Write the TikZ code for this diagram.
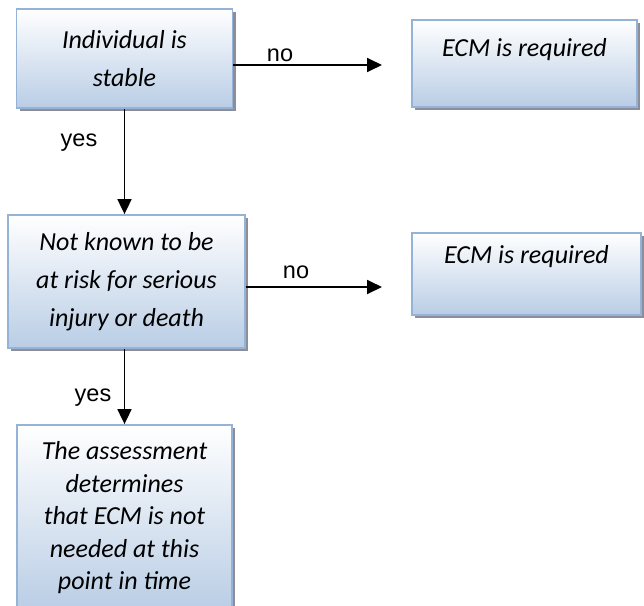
\documentclass[tikz,border=0pt]{standalone}
\usepackage{fontspec}
\setmainfont{Carlito}
\newfontfamily\arialfont{Liberation Sans}
\usetikzlibrary{arrows.meta}
\usetikzlibrary{shadows}

\definecolor{boxline}{HTML}{95B3D7}
\definecolor{boxfill}{HTML}{B9CDE5}
\definecolor{shadowgray}{HTML}{8E8E9A}

\tikzset{
    stepbox/.style={rectangle, draw=boxline, line width=1.8pt, top color=white, bottom color=boxfill,
        inner sep=0pt, align=center, font=\fontsize{26}{38}\selectfont\itshape,
        drop shadow={shadow xshift=3pt, shadow yshift=-3pt, fill=shadowgray, opacity=1}},
    flow/.style={line width=1.8pt, -{Triangle[length=15pt, width=14pt]}},
    answer/.style={font=\arialfont\fontsize{23.5}{28}\selectfont}
}

\begin{document}
\begin{tikzpicture}[x=1pt, y=-1pt]
    \clip (0,0) rectangle (644,605);
    \fill[white] (0,0) rectangle (644,605);
    \node[stepbox, minimum width=216pt, minimum height=99pt] (stable) at (124.5,58.5) {Individual is\\stable};
    \node[stepbox, minimum width=225pt, text height=36pt, text depth=51pt] (required1) at (524.5,63.5) {ECM is required};
    \node[stepbox, minimum width=237pt, minimum height=133pt] (risk) at (126.5,281.5) {Not known to be\\at risk for serious\\injury or death};
    \node[stepbox, minimum width=229pt, text height=30pt, text depth=52pt] (required2) at (526.5,274) {ECM is required};
    \node[stepbox, minimum width=215pt, minimum height=186pt, font=\fontsize{26}{32.5}\selectfont\itshape] (assessment) at (124.5,518)
        {The assessment\\determines\\that ECM is not\\needed at this\\point in time};
    \coordinate (no1) at (382,65);
    \coordinate (no2) at (382,287);
    \draw[flow] (stable.east |- no1) -- (no1);
    \draw[flow] (risk.east |- no2) -- (no2);
    \draw[flow] (stable.south) -- (stable.south |- risk.north);
    \draw[flow] (stable.south |- risk.south) -- (stable.south |- assessment.north);
    \node[answer] (no1label) at (280,55) {no};
    \node[answer] (no2label) at (296,272) {no};
    \node[answer] (yes1label) at (79,143) {yes};
    \node[answer] (yes2label) at (93,398) {yes};
\end{tikzpicture}
\end{document}
